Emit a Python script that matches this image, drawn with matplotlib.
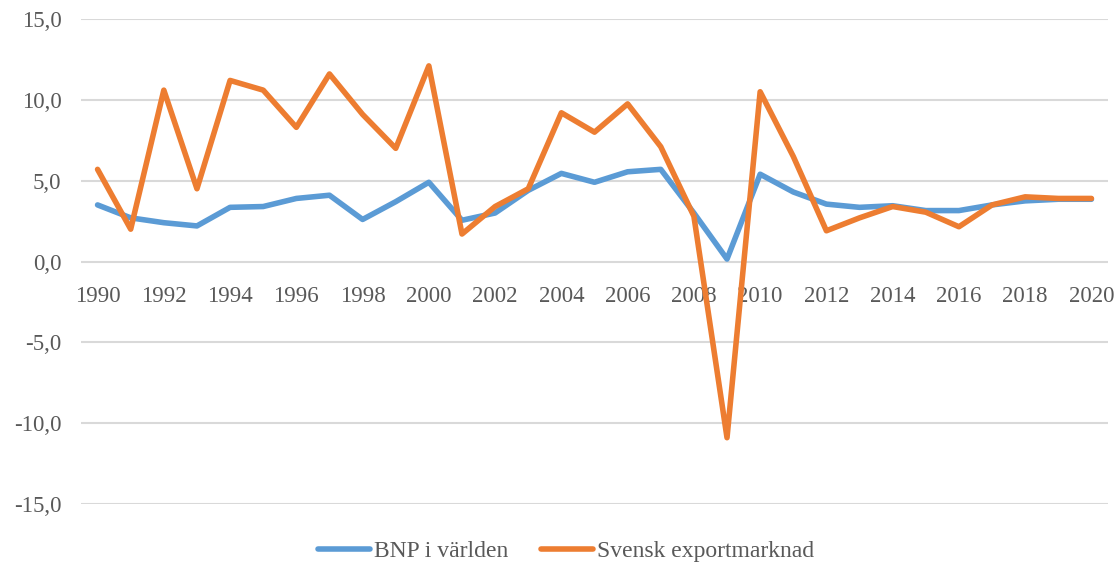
import matplotlib
matplotlib.use("Agg")
import matplotlib.pyplot as plt

years = list(range(1990, 2021))
bnp = [3.5, 2.7, 2.4, 2.2, 3.35, 3.4, 3.9, 4.1, 2.6, 3.7, 4.9,
       2.55, 3.0, 4.4, 5.45, 4.9, 5.55, 5.7, 3.0, 0.15, 5.4,
       4.3, 3.55, 3.35, 3.45, 3.15, 3.15, 3.5, 3.75, 3.85, 3.85]
export = [5.7, 2.0, 10.6, 4.5, 11.2, 10.6, 8.3, 11.6, 9.1, 7.0, 12.1,
          1.7, 3.4, 4.5, 9.2, 8.0, 9.75, 7.1, 2.8, -10.9, 10.5,
          6.5, 1.9, 2.7, 3.4, 3.05, 2.15, 3.5, 4.0, 3.9, 3.9]
yticks = [-15, -10, -5, 0, 5, 10, 15]

plt.rcParams['font.family'] = ['Liberation Serif', 'DejaVu Serif']
W, H = 1118, 562
fig = plt.figure(figsize=(W / 100, H / 100), dpi=100)
ax = fig.add_axes([81 / W, 1 - 504 / H, (1108 - 81) / W, (504 - 19) / H])

x = list(range(len(years)))
ax.plot(x, bnp, color='#5B9BD5', lw=4, solid_joinstyle='round', solid_capstyle='round', label='BNP i världen', zorder=3)
ax.plot(x, export, color='#ED7D31', lw=4, solid_joinstyle='round', solid_capstyle='round', label='Svensk exportmarknad', zorder=4)

ax.set_xlim(-0.5, len(years) - 0.5)
ax.set_ylim(-15, 15)
ax.set_yticks(yticks)
ax.set_yticklabels([f"{v:.1f}".replace('.', ',') for v in yticks])
ax.yaxis.grid(True, color='#D9D9D9', lw=1.5)
ax.set_axisbelow(True)
for s in ['left', 'right', 'top']:
    ax.spines[s].set_visible(False)
ax.spines['bottom'].set_position(('data', 0))
ax.spines['bottom'].set_visible(False)
ax.set_xticks(x[::2])
ax.set_xticklabels([str(y) for y in years[::2]])
ax.tick_params(axis='both', length=0, labelsize=16.5, colors='#595959')
ax.tick_params(axis='x', pad=17.5)
ax.tick_params(axis='y', pad=14)

fig.legend(loc='center', bbox_to_anchor=(566 / W, 1 - 551 / H), ncol=2, frameon=False,
           fontsize=17, labelcolor='#595959', handlelength=2.2, handletextpad=0.15,
           columnspacing=1.4, borderpad=0, borderaxespad=0)

fig.savefig('out.png', dpi=100)
